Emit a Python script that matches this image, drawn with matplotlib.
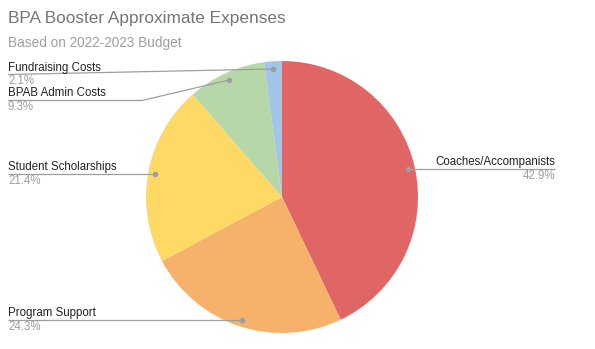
import matplotlib.pyplot as plt

plt.rcParams['font.family'] = ['Liberation Sans', 'DejaVu Sans']

labels = ["Coaches/Accompanists", "Program Support", "Student Scholarships",
          "BPAB Admin Costs", "Fundraising Costs"]
values = [42.9, 24.3, 21.4, 9.3, 2.1]
pcts = ["42.9%", "24.3%", "21.4%", "9.3%", "2.1%"]
colors = ["#E06666", "#F6B26B", "#FFD966", "#B6D7A8", "#9FC5E8"]

f = plt.figure(figsize=(5.95, 3.49), dpi=100)
ax = f.add_axes([0, 0, 1, 1])

# y axis is flipped (pixel coords), so -90 is the top and counterclock runs clockwise on screen
cx, cy, r = 282, 197, 136
ax.pie(values, colors=colors, startangle=-90, counterclock=True,
       center=(cx, cy), radius=r, frame=True,
       wedgeprops=dict(linewidth=0))
ax.set_xlim(0, 595)
ax.set_ylim(349, 0)
ax.set_aspect("equal")
ax.axis("off")

# leader lines: (polyline points, label x, line y, align)
leaders = [
    ([(555, 169), (408, 169)], 555, 169, "right"),
    ([(8, 320), (242, 320)], 8, 320, "left"),
    ([(8, 174), (155, 174)], 8, 174, "left"),
    ([(8, 100.5), (142, 100.5), (229, 80)], 8, 100.5, "left"),
    ([(8, 74.5), (273, 69)], 8, 74.5, "left"),
]

lc = "#9e9e9e"
for i, (pts, tx, ty, ha) in enumerate(leaders):
    xs = [p[0] for p in pts]
    ys = [p[1] for p in pts]
    ax.plot(xs, ys, color=lc, lw=0.9, solid_capstyle="butt")
    ax.plot(xs[-1], ys[-1], "o", color=lc, ms=3)
    ax.text(tx, ty - 4, labels[i], ha=ha, va="baseline", fontsize=8.3, color="#222222")
    ax.text(tx, ty + 10, pcts[i], ha=ha, va="baseline", fontsize=8.3, color="#9e9e9e")

ax.text(8, 18, "BPA Booster Approximate Expenses", ha="left", va="center",
        fontsize=12.4, color="#757575")
ax.text(8, 43, "Based on 2022-2023 Budget", ha="left", va="center",
        fontsize=9.8, color="#9e9e9e")

f.savefig("out.png", dpi=100)
